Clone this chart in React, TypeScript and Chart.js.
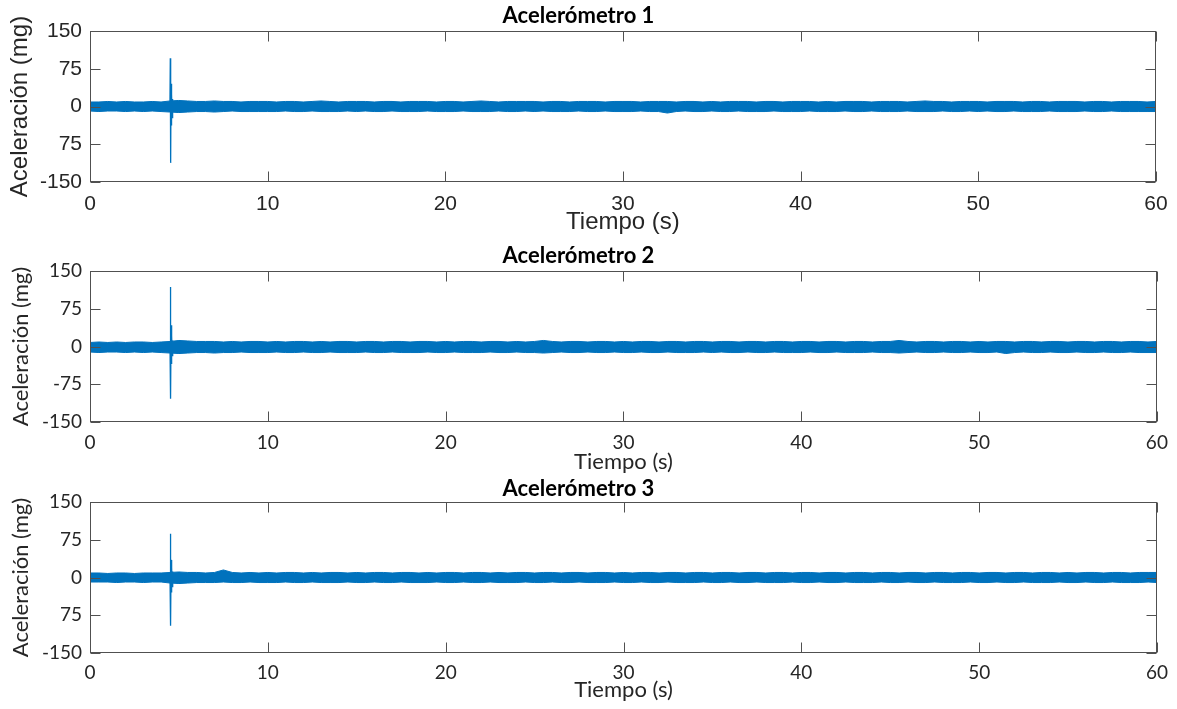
import React, { useEffect, useRef } from 'react';
import { Chart, registerables } from 'chart.js';

Chart.register(...registerables);

// ---------- DATA ----------
// Envelope of the noise band sampled every 0.5 s, 0..60 s (121 samples)
const envelopeStep = 0.5;
const envelopeTimes: number[] = Array.from({ length: 121 }, (_, i) => i * envelopeStep);

const upper1 = [
  9, 9, 10, 9, 10, 9, 9, 10, 9, 11,
  12, 11, 10, 10, 11, 10, 10, 9, 10, 10,
  10, 9, 10, 10, 9, 10, 11, 10, 9, 10,
  10, 10, 9, 10, 10, 9, 10, 10, 10, 9,
  10, 10, 9, 10, 11, 10, 9, 10, 10, 10,
  10, 9, 10, 10, 9, 10, 10, 10, 9, 10,
  10, 10, 9, 10, 10, 10, 9, 10, 10, 9,
  10, 9, 10, 10, 10, 9, 10, 10, 9, 10,
  10, 10, 9, 10, 9, 10, 10, 10, 9, 10,
  10, 10, 9, 10, 11, 10, 10, 9, 10, 10,
  10, 9, 10, 10, 10, 9, 10, 10, 9, 10,
  10, 10, 9, 10, 10, 9, 10, 10, 10, 9,
  10,
];
const lower1 = [
  -9, -10, -9, -9, -10, -9, -10, -9, -10, -11,
  -12, -11, -10, -10, -11, -10, -9, -10, -10, -10,
  -10, -10, -9, -10, -10, -9, -10, -10, -10, -9,
  -10, -9, -10, -10, -9, -10, -10, -10, -9, -10,
  -10, -10, -9, -10, -10, -10, -9, -10, -10, -9,
  -10, -9, -10, -10, -10, -9, -10, -10, -9, -10,
  -10, -10, -9, -10, -10, -13, -10, -9, -10, -10,
  -9, -10, -10, -9, -10, -10, -10, -9, -10, -10,
  -10, -9, -10, -10, -10, -9, -10, -10, -9, -10,
  -10, -10, -9, -10, -10, -10, -9, -10, -10, -9,
  -10, -9, -10, -10, -9, -10, -10, -10, -9, -10,
  -10, -10, -9, -10, -10, -9, -10, -10, -10, -10,
  -10,
];

const upper2 = [
  8, 9, 8, 9, 8, 9, 9, 8, 9, 10,
  12, 11, 10, 10, 10, 9, 10, 9, 10, 10,
  9, 10, 9, 10, 10, 9, 10, 9, 10, 10,
  9, 10, 10, 9, 10, 10, 9, 10, 10, 9,
  10, 9, 10, 10, 9, 10, 10, 9, 10, 9,
  10, 12, 10, 9, 10, 10, 9, 10, 10, 9,
  10, 9, 10, 10, 9, 10, 10, 9, 10, 10,
  9, 10, 10, 9, 10, 10, 9, 10, 10, 9,
  10, 10, 9, 10, 10, 9, 10, 10, 9, 10,
  10, 12, 10, 9, 10, 10, 9, 10, 10, 9,
  10, 9, 10, 10, 9, 10, 10, 9, 10, 10,
  9, 10, 10, 9, 10, 10, 9, 10, 10, 9,
  10,
];
const lower2 = [
  -11, -12, -11, -11, -12, -11, -12, -11, -12, -13,
  -14, -13, -12, -12, -13, -12, -12, -11, -12, -12,
  -12, -11, -12, -12, -11, -12, -12, -11, -12, -12,
  -12, -11, -12, -12, -11, -12, -12, -12, -11, -12,
  -12, -11, -12, -12, -12, -11, -12, -12, -11, -12,
  -12, -13, -12, -11, -12, -12, -11, -12, -12, -11,
  -12, -12, -11, -12, -12, -11, -12, -12, -12, -11,
  -12, -11, -12, -12, -11, -12, -12, -11, -12, -12,
  -12, -11, -12, -12, -11, -12, -12, -12, -11, -12,
  -12, -13, -12, -11, -12, -12, -11, -12, -12, -11,
  -12, -12, -11, -14, -12, -11, -12, -12, -11, -12,
  -12, -11, -12, -12, -11, -12, -12, -11, -12, -12,
  -12,
];

const upper3 = [
  9, 9, 8, 9, 9, 8, 9, 9, 9, 10,
  11, 10, 10, 9, 10, 15, 10, 9, 10, 9,
  10, 9, 10, 10, 9, 10, 9, 10, 10, 9,
  10, 9, 10, 10, 9, 10, 10, 9, 10, 9,
  10, 10, 9, 10, 10, 9, 10, 9, 10, 10,
  9, 10, 10, 9, 10, 10, 9, 10, 10, 9,
  10, 9, 10, 10, 9, 10, 10, 9, 10, 10,
  9, 10, 10, 9, 10, 10, 9, 10, 10, 9,
  10, 10, 9, 10, 10, 9, 10, 10, 9, 10,
  10, 9, 10, 10, 9, 10, 10, 9, 10, 10,
  9, 10, 10, 9, 10, 10, 9, 10, 10, 9,
  10, 9, 10, 10, 9, 10, 10, 9, 10, 10,
  10,
];
const lower3 = [
  -9, -9, -9, -10, -9, -9, -10, -9, -9, -11,
  -12, -11, -10, -10, -10, -9, -10, -10, -9, -10,
  -10, -10, -9, -10, -10, -9, -10, -10, -10, -9,
  -10, -10, -9, -10, -10, -9, -10, -10, -10, -9,
  -10, -10, -9, -10, -10, -9, -10, -10, -10, -9,
  -10, -10, -9, -10, -10, -9, -10, -10, -10, -9,
  -10, -10, -9, -10, -10, -9, -10, -10, -10, -9,
  -10, -10, -9, -10, -10, -9, -10, -10, -10, -9,
  -10, -10, -9, -10, -10, -9, -10, -10, -10, -9,
  -10, -10, -9, -10, -10, -9, -10, -10, -10, -9,
  -10, -10, -9, -10, -10, -9, -10, -10, -10, -9,
  -10, -10, -9, -10, -10, -9, -10, -10, -10, -9,
  -10,
];

// Impact spike around t = 4.6 s
const spikeTimes = [4.5, 4.52, 4.54, 4.56, 4.58, 4.6, 4.62, 4.64, 4.66, 4.7];
const spike1 = [0, 96, -112, 45, -38, 25, -22, 15, -12, 0];
const spike2 = [0, 118, -104, 42, -35, 22, -18, 12, -10, 0];
const spike3 = [0, 87, -96, 35, -30, 20, -18, 12, -10, 0];

const titles = ['Acelerómetro 1', 'Acelerómetro 2', 'Acelerómetro 3'];
const xAxisTitle = 'Tiempo (s)';
const yAxisTitle = 'Aceleración (mg)';
const xTickValues = [0, 10, 20, 30, 40, 50, 60];
const yTickValues = [-150, -75, 0, 75, 150];
const yTickLabels1 = ['-150', '75', '0', '75', '150'];
const yTickLabels2 = ['-150', '-75', '0', '75', '150'];
const yTickLabels3 = ['-150', '75', '0', '75', '150'];

// ---------- STYLE ----------
const BLUE = '#0072BD';
const TEXT = '#262626';
const BOX = '#505050';

const boxPlugin = {
  id: 'matlabBox',
  afterDatasetsDraw(chart: any) {
    const { ctx, chartArea: a, scales } = chart;
    const x = scales.x;
    const y = scales.y;
    ctx.save();
    ctx.strokeStyle = BOX;
    ctx.lineWidth = 1;
    const L = Math.round(a.left) + 0.5;
    const R = Math.round(a.right) - 0.5;
    const T = Math.round(a.top) + 0.5;
    const B = Math.round(a.bottom) - 0.5;
    ctx.strokeRect(L, T, R - L, B - T);
    const tl = 10;
    ctx.beginPath();
    x.ticks.forEach((t: any) => {
      const px = Math.round(x.getPixelForValue(t.value)) + 0.5;
      ctx.moveTo(px, B);
      ctx.lineTo(px, B - tl);
      ctx.moveTo(px, T);
      ctx.lineTo(px, T + tl);
    });
    y.ticks.forEach((t: any) => {
      const py = Math.round(y.getPixelForValue(t.value)) + 0.5;
      ctx.moveTo(L, py);
      ctx.lineTo(L + tl, py);
      ctx.moveTo(R, py);
      ctx.lineTo(R - tl, py);
    });
    ctx.stroke();
    ctx.restore();
  },
};

type Cfg = {
  top: number;
  height: number;
  title: string;
  upper: number[];
  lower: number[];
  spike: number[];
  yLabels: string[];
  family: string;
  tickSize: number;
  axisTitleSize: number;
  titleSize: number;
  titleCenter: number;
  areaTop: number;
  areaBottom: number;
  tickCenter: number;
  xTitleCenter: number;
  yTitleCenter: number;
};

const TITLE_FAMILY = 'Lato, "Open Sans", sans-serif';

const configs: Cfg[] = [
  {
    top: 0, height: 240, title: titles[0], upper: upper1, lower: lower1, spike: spike1,
    yLabels: yTickLabels1, family: '"Liberation Sans", Arial, sans-serif',
    tickSize: 21, axisTitleSize: 24, titleSize: 22,
    titleCenter: 16, areaTop: 31, areaBottom: 182, tickCenter: 204, xTitleCenter: 222, yTitleCenter: 20,
  },
  {
    top: 240, height: 240, title: titles[1], upper: upper2, lower: lower2, spike: spike2,
    yLabels: yTickLabels2, family: 'Lato, "Open Sans", sans-serif',
    tickSize: 19, axisTitleSize: 22, titleSize: 22,
    titleCenter: 16, areaTop: 31, areaBottom: 182, tickCenter: 202.5, xTitleCenter: 222, yTitleCenter: 21,
  },
  {
    top: 471, height: 238, title: titles[2], upper: upper3, lower: lower3, spike: spike3,
    yLabels: yTickLabels3, family: 'Lato, "Open Sans", sans-serif',
    tickSize: 19, axisTitleSize: 22, titleSize: 22,
    titleCenter: 18, areaTop: 31, areaBottom: 182, tickCenter: 201.5, xTitleCenter: 219, yTitleCenter: 21,
  },
];

function AccelChart({ cfg }: { cfg: Cfg }) {
  const ref = useRef<HTMLCanvasElement | null>(null);
  useEffect(() => {
    if (!ref.current) return;
    const titleLH = cfg.titleSize * 1.2;
    const tickLH = cfg.tickSize * 1.2;
    const axLH = cfg.axisTitleSize * 1.2;
    const chart = new Chart(ref.current, {
      type: 'line',
      data: {
        datasets: [
          {
            data: cfg.upper.map((v, i) => ({ x: envelopeTimes[i], y: v })),
            borderColor: BLUE,
            backgroundColor: BLUE,
            borderWidth: 1,
            pointRadius: 0,
            fill: '+1',
            tension: 0,
          },
          {
            data: cfg.lower.map((v, i) => ({ x: envelopeTimes[i], y: v })),
            borderColor: BLUE,
            backgroundColor: BLUE,
            borderWidth: 1,
            pointRadius: 0,
            fill: false,
            tension: 0,
          },
          {
            data: cfg.spike.map((v, i) => ({ x: spikeTimes[i], y: v })),
            borderColor: BLUE,
            borderWidth: 1.3,
            pointRadius: 0,
            fill: false,
            tension: 0,
          },
        ],
      },
      options: {
        animation: false,
        responsive: false,
        events: [],
        layout: { padding: { left: 0, right: 20, top: 0, bottom: 0 } },
        plugins: {
          legend: { display: false },
          tooltip: { enabled: false },
          title: {
            display: true,
            text: cfg.title,
            color: '#000',
            font: { family: TITLE_FAMILY, size: cfg.titleSize, weight: 'bold', lineHeight: 1.2 },
            padding: {
              top: cfg.titleCenter - titleLH / 2,
              bottom: cfg.areaTop - cfg.titleCenter - titleLH / 2,
            },
          },
        },
        scales: {
          x: {
            type: 'linear',
            min: 0,
            max: 60,
            afterBuildTicks: (s: any) => {
              s.ticks = xTickValues.map((v) => ({ value: v }));
            },
            grid: { display: false, drawTicks: false },
            border: { display: false },
            ticks: {
              color: TEXT,
              padding: cfg.tickCenter - cfg.areaBottom - tickLH / 2,
              maxRotation: 0,
              autoSkip: false,
              font: { family: cfg.family, size: cfg.tickSize, lineHeight: 1.2 },
            },
            title: {
              display: true,
              text: xAxisTitle,
              color: TEXT,
              font: { family: cfg.family, size: cfg.axisTitleSize, lineHeight: 1.2 },
              padding: { top: 0, bottom: cfg.height - cfg.xTitleCenter - axLH / 2 },
            },
            afterFit: (s: any) => {
              s.height = cfg.height - cfg.areaBottom;
            },
          },
          y: {
            type: 'linear',
            min: -150,
            max: 150,
            afterBuildTicks: (s: any) => {
              s.ticks = yTickValues.map((v) => ({ value: v }));
            },
            grid: { display: false, drawTicks: false },
            border: { display: false },
            ticks: {
              color: TEXT,
              padding: 8,
              autoSkip: false,
              font: { family: cfg.family, size: cfg.tickSize, lineHeight: 1.2 },
              callback: (value: any) => {
                const idx = yTickValues.indexOf(Number(value));
                return idx >= 0 ? cfg.yLabels[idx] : '';
              },
            },
            title: {
              display: true,
              text: yAxisTitle,
              color: TEXT,
              font: { family: cfg.family, size: cfg.axisTitleSize, lineHeight: 1.2 },
              padding: { top: cfg.yTitleCenter - axLH / 2, bottom: 0 },
            },
            afterFit: (s: any) => {
              s.width = 90;
            },
          },
        },
      },
      plugins: [boxPlugin],
    } as any);
    return () => chart.destroy();
  }, [cfg]);
  return (
    <canvas
      ref={ref}
      width={1177}
      height={cfg.height}
      style={{ position: 'absolute', left: 0, top: cfg.top, width: 1177, height: cfg.height, display: 'block' }}
    />
  );
}

export default function App() {
  return (
    <div style={{ position: 'fixed', left: 0, top: 0, width: 1177, height: 709, background: '#fff', overflow: 'hidden' }}>
      {configs.map((c, i) => (
        <AccelChart key={i} cfg={c} />
      ))}
    </div>
  );
}
